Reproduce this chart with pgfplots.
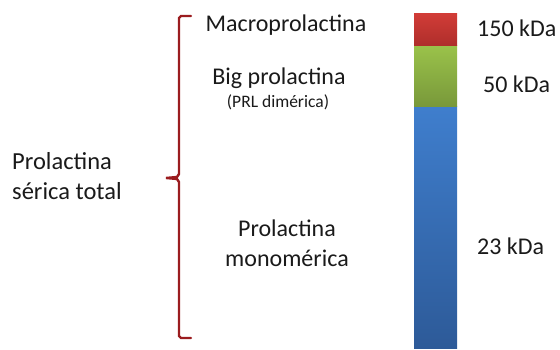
\documentclass[border=0pt]{standalone}
\usepackage{pgfplots}
\pgfplotsset{compat=1.18}
\usepackage{fontspec}
\setmainfont{Carlito}
\definecolor{redT}{HTML}{D13C37}
\definecolor{redB}{HTML}{AE2E2B}
\definecolor{grnT}{HTML}{9AC24A}
\definecolor{grnB}{HTML}{78983A}
\definecolor{bluT}{HTML}{3F7ECD}
\definecolor{bluB}{HTML}{2D5A98}
\definecolor{brcol}{HTML}{9B1C1F}
\definecolor{txt}{HTML}{1A1A1A}
\begin{document}
\begin{tikzpicture}
\begin{axis}[
  width=560pt, height=350pt, scale only axis,
  xmin=0, xmax=560, ymin=0, ymax=350,
  hide axis, clip=false,
]
\path (axis cs:0,0) rectangle (axis cs:560,350);
% stacked bar: blue 0-243, green 243-304, red 304-336
\addplot[draw=none, top color=bluT, bottom color=bluB] coordinates {(414,1) (457,1) (457,243) (414,243)} -- cycle;
\addplot[draw=none, top color=grnT, bottom color=grnB] coordinates {(414,243) (457,243) (457,304) (414,304)} -- cycle;
\addplot[draw=none, top color=redT, bottom color=redB] coordinates {(414,304) (457,304) (457,336) (414,336)} -- cycle;

\draw[brcol, line width=2.4pt, line cap=round]
  (axis cs:191,334) -- (axis cs:181,334) -- (axis cs:179,332) -- (axis cs:179,176)
  -- (axis cs:177,173) -- (axis cs:166,172) -- (axis cs:177,171) -- (axis cs:179,168)
  -- (axis cs:179,14) -- (axis cs:181,12) -- (axis cs:191,12);

\node[text=txt, inner sep=0pt, font=\fontsize{24}{28}\selectfont] at (axis cs:286,325) {Macroprolactina};
\node[text=txt, inner sep=0pt, font=\fontsize{24}{28}\selectfont] at (axis cs:279,272) {Big prolactina};
\node[text=txt, inner sep=0pt, font=\fontsize{17.5}{20}\selectfont] at (axis cs:278,248) {(PRL dimérica)};
\node[text=txt, inner sep=0pt, font=\fontsize{24}{30}\selectfont, align=center] at (axis cs:287,107) {Prolactina\\monomérica};
\node[text=txt, inner sep=0pt, font=\fontsize{24.5}{30}\selectfont, align=left, anchor=west] at (axis cs:12,174) {Prolactina\\sérica total};
\node[text=txt, inner sep=0pt, font=\fontsize{24}{28}\selectfont, anchor=west] at (axis cs:477,322) {150 kDa};
\node[text=txt, inner sep=0pt, font=\fontsize{24}{28}\selectfont, anchor=west] at (axis cs:483,266) {50 kDa};
\node[text=txt, inner sep=0pt, font=\fontsize{24}{28}\selectfont, anchor=west] at (axis cs:477,104) {23 kDa};
\end{axis}
\end{tikzpicture}
\end{document}
